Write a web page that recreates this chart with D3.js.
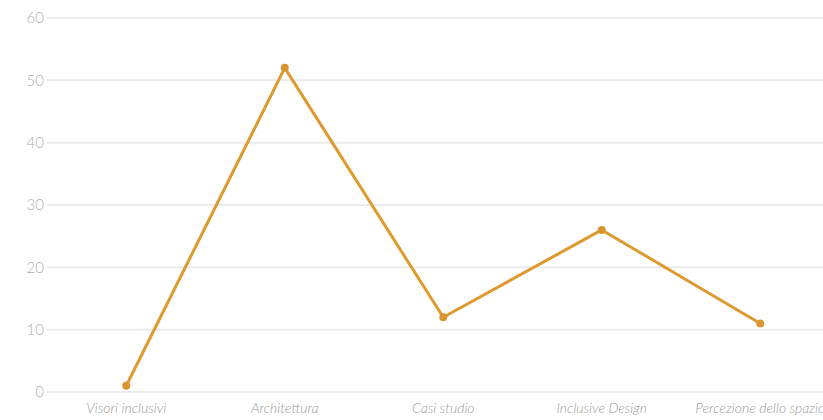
<!DOCTYPE html>
<html lang="en">
<head>
	<meta charset="UTF-8">
	<title>Line chart</title>
	<script src="https://d3js.org/d3.v7.min.js"></script>
	<style>
		body { margin: 0; background: #fff; }
		svg { display: block; font-family: Lato, "Open Sans", sans-serif; }
		.grid line { stroke: #ebebeb; stroke-width: 2px; }
		.ytick { fill: #b0b0b0; font-size: 15px; font-weight: 300; }
		.xtick { fill: #9a9a9a; font-size: 14px; font-style: italic; font-weight: 300; }
	</style>
</head>
<body>
	<div id="chart"></div>
<script>
	var categories = ["Visori inclusivi", "Architettura", "Casi studio", "Inclusive Design", "Percezione dello spazio"];
	var values = [1, 52, 12, 26, 11];
	var yTicks = [0, 10, 20, 30, 40, 50, 60];

	var w = 823;
	var h = 420;
	var mLeft = 47, mTop = 18, mBottom = 392;
	var band = 158.5;

	var svg = d3.select("#chart").append("svg")
		.attr("width", w)
		.attr("height", h);

	var x = d3.scalePoint()
		.domain(categories)
		.range([mLeft + band / 2, mLeft + band * (categories.length - 0.5)]);

	var y = d3.scaleLinear()
		.domain([0, 60])
		.range([mBottom, mTop]);

	// gridlines
	svg.append("g").attr("class", "grid")
		.selectAll("line")
		.data(yTicks)
		.enter().append("line")
		.attr("x1", mLeft)
		.attr("x2", w)
		.attr("y1", function (d) { return y(d); })
		.attr("y2", function (d) { return y(d); });

	// y labels
	svg.append("g")
		.selectAll("text")
		.data(yTicks)
		.enter().append("text")
		.attr("class", "ytick")
		.attr("x", mLeft - 3)
		.attr("y", function (d) { return y(d); })
		.attr("dy", "0.35em")
		.attr("text-anchor", "end")
		.text(function (d) { return d; });

	// x labels
	svg.append("g")
		.selectAll("text")
		.data(categories)
		.enter().append("text")
		.attr("class", "xtick")
		.attr("x", function (d) { return x(d); })
		.attr("y", mBottom + 21)
		.attr("text-anchor", "middle")
		.text(function (d) { return d; });

	var line = d3.line()
		.x(function (d, i) { return x(categories[i]); })
		.y(function (d) { return y(d); });

	svg.append("path")
		.datum(values)
		.attr("fill", "none")
		.attr("stroke", "#df9a2f")
		.attr("stroke-width", 3)
		.attr("stroke-linejoin", "round")
		.attr("d", line);

	svg.append("g")
		.selectAll("circle")
		.data(values)
		.enter().append("circle")
		.attr("cx", function (d, i) { return x(categories[i]); })
		.attr("cy", function (d) { return y(d); })
		.attr("r", 4)
		.attr("fill", "#d99530");
</script>
</body>
</html>
